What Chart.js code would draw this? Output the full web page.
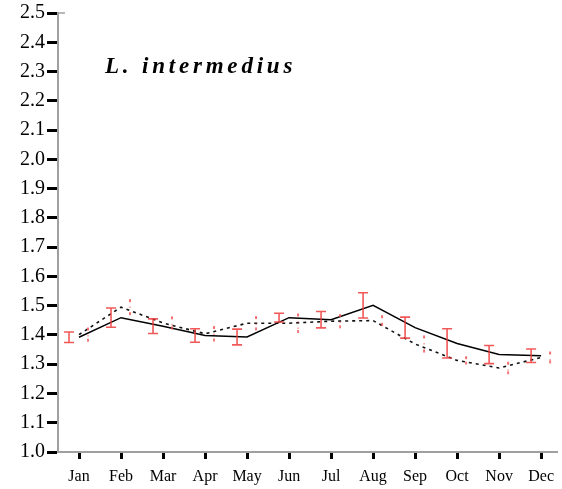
<!DOCTYPE html>
<html>
<head>
<meta charset="utf-8">
<script src="https://cdn.jsdelivr.net/npm/chart.js@4"></script>
<style>
  html, body { margin: 0; padding: 0; background: #fff; }
  canvas { display: block; }
</style>
</head>
<body>
<canvas id="c" width="562" height="489"></canvas>
<script>
// Monthly means with error ranges for two series
const months = ['Jan','Feb','Mar','Apr','May','Jun','Jul','Aug','Sep','Oct','Nov','Dec'];
const solidMean = [1.392, 1.459, 1.430, 1.398, 1.393, 1.459, 1.452, 1.501, 1.425, 1.371, 1.333, 1.329];
const solidErr  = [0.018, 0.033, 0.025, 0.023, 0.027, 0.015, 0.028, 0.043, 0.036, 0.050, 0.031, 0.023];
const dottedMean = [1.401, 1.495, 1.441, 1.404, 1.440, 1.440, 1.447, 1.449, 1.369, 1.313, 1.287, 1.323];
const dottedErr  = [0.021, 0.024, 0.019, 0.023, 0.021, 0.030, 0.021, 0.015, 0.026, 0.011, 0.018, 0.017];
const yTicks = [1.0,1.1,1.2,1.3,1.4,1.5,1.6,1.7,1.8,1.9,2.0,2.1,2.2,2.3,2.4,2.5];
const titleText = 'L. intermedius';

const serif = "'Liberation Serif', 'Times New Roman', serif";

const toPoints = arr => arr.map((v, i) => ({ x: i, y: v }));

// Error bars, drawn slightly left (solid series) and right (dotted series) of each month
const errorBars = {
  id: 'errorBars',
  afterDatasetsDraw(chart) {
    const { ctx, scales: { x, y } } = chart;
    ctx.save();
    // solid series: red I-beams
    ctx.strokeStyle = 'rgba(238,60,60,0.85)';
    ctx.lineWidth = 1.6;
    solidMean.forEach((m, i) => {
      const px = x.getPixelForValue(i) - 10;
      const top = y.getPixelForValue(m + solidErr[i]);
      const bot = y.getPixelForValue(m - solidErr[i]);
      ctx.beginPath();
      ctx.moveTo(px, top); ctx.lineTo(px, bot);
      ctx.moveTo(px - 5, top); ctx.lineTo(px + 5, top);
      ctx.moveTo(px - 5, bot); ctx.lineTo(px + 5, bot);
      ctx.stroke();
    });
    // dotted series: faint dotted red bars
    ctx.strokeStyle = 'rgba(240,80,80,0.7)';
    ctx.lineWidth = 1.2;
    ctx.setLineDash([1.5, 5]);
    dottedMean.forEach((m, i) => {
      const px = x.getPixelForValue(i) + 9;
      const top = y.getPixelForValue(m + dottedErr[i]);
      const bot = y.getPixelForValue(m - dottedErr[i]);
      ctx.beginPath();
      ctx.moveTo(px, top); ctx.lineTo(px, bot);
      ctx.stroke();
    });
    ctx.setLineDash([]);
    dottedMean.forEach((m, i) => {
      const px = x.getPixelForValue(i) + 9;
      const top = y.getPixelForValue(m + dottedErr[i]);
      const bot = y.getPixelForValue(m - dottedErr[i]);
      ctx.fillStyle = 'rgba(240,80,80,0.75)';
      ctx.fillRect(px - 1, top - 1, 2, 3);
      ctx.fillRect(px - 1, bot - 2, 2, 3);
    });
    ctx.restore();
  }
};

// Species name inside the plot area, plus the short stub at the top of the y axis
const labels = {
  id: 'labels',
  afterDraw(chart) {
    const { ctx, chartArea } = chart;
    ctx.save();
    ctx.strokeStyle = '#a0a0a0';
    ctx.lineWidth = 1.5;
    ctx.beginPath();
    ctx.moveTo(chartArea.left, chartArea.top);
    ctx.lineTo(chartArea.left + 7, chartArea.top);
    ctx.stroke();

    ctx.fillStyle = '#000';
    ctx.font = "italic bold 23px " + serif;
    ctx.letterSpacing = '3.8px';
    ctx.textBaseline = 'alphabetic';
    ctx.textAlign = 'left';
    ctx.fillText(titleText, 105, 73);
    ctx.restore();
  }
};

new Chart(document.getElementById('c'), {
  type: 'line',
  data: {
    datasets: [
      {
        data: toPoints(solidMean),
        borderColor: '#000',
        borderWidth: 1.5,
        pointRadius: 0,
        tension: 0
      },
      {
        data: toPoints(dottedMean),
        borderColor: '#111',
        borderWidth: 1.6,
        borderDash: [3, 4],
        pointRadius: 0,
        tension: 0
      }
    ]
  },
  options: {
    responsive: false,
    animation: false,
    devicePixelRatio: 1,
    layout: { padding: { top: 0, right: 0, left: 0, bottom: 0 } },
    plugins: {
      legend: { display: false },
      tooltip: { enabled: false },
      title: { display: false }
    },
    scales: {
      x: {
        type: 'linear',
        min: -0.5,
        max: 11.4,
        afterBuildTicks: s => { s.ticks = months.map((_, i) => ({ value: i })); },
        afterFit: s => { s.height = 37; },
        ticks: {
          autoSkip: false,
          maxRotation: 0,
          padding: 8,
          color: '#000',
          font: { family: serif, size: 16 },
          callback: v => months[v]
        },
        grid: {
          drawOnChartArea: false,
          drawTicks: true,
          tickLength: 7,
          tickWidth: 3,
          tickColor: '#000'
        },
        border: { display: true, color: '#a0a0a0', width: 2 }
      },
      y: {
        type: 'linear',
        min: 1.0,
        max: 2.5,
        afterBuildTicks: s => { s.ticks = yTicks.map(v => ({ value: v })); },
        afterFit: s => { s.width = 58; },
        ticks: {
          autoSkip: false,
          padding: 2,
          color: '#000',
          font: { family: serif, size: 20, lineHeight: 1.1 },
          callback: v => Number(v).toFixed(1)
        },
        grid: {
          drawOnChartArea: false,
          drawTicks: true,
          tickLength: 11,
          tickWidth: 3,
          tickColor: '#000'
        },
        border: { display: true, color: '#a0a0a0', width: 2 }
      }
    }
  },
  plugins: [errorBars, labels]
});
</script>
</body>
</html>
